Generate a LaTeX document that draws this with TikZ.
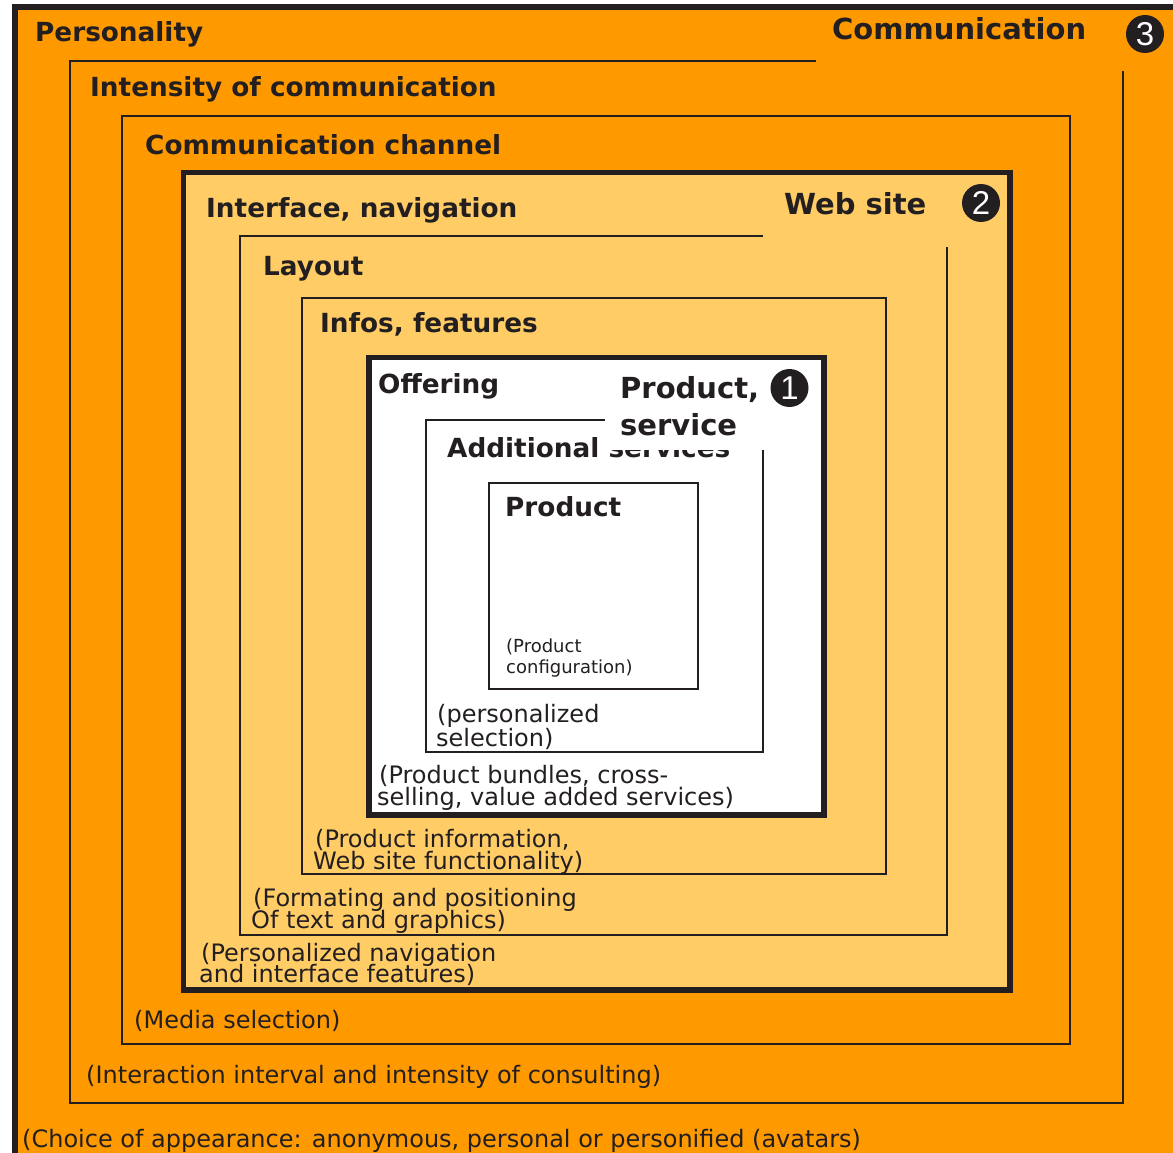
\documentclass[tikz,border=0pt]{standalone}
\usepackage{fontspec}
\setmainfont{DejaVu Sans}
\newfontfamily\digitfont{Liberation Sans}
\definecolor{deeporange}{HTML}{FF9900}
\definecolor{paleorange}{HTML}{FFCC66}
\definecolor{ink}{HTML}{231F20}

\tikzset{
  thinframe/.style={draw=ink, line width=2pt},
  thickframe/.style={draw=ink, line width=5.5pt},
  heading/.style={anchor=base west, inner sep=0pt, text=ink, font=\fontsize{26.3}{30}\selectfont\bfseries},
  bigheading/.style={heading, font=\fontsize{29}{33}\selectfont\bfseries},
  note/.style={anchor=base west, inner sep=0pt, text=ink, font=\fontsize{24}{26}\selectfont},
  smallnote/.style={note, font=\fontsize{18}{21}\selectfont},
  badge/.style={circle, fill=ink, text=white, minimum size=38pt, inner sep=0pt, font=\digitfont\fontsize{33}{33}\selectfont},
}

\begin{document}
\begin{tikzpicture}[x=1pt,y=-1pt]
\useasboundingbox (0,0) rectangle (1173,1153);

% level 3: communication
\fill[deeporange] (14.5,7) rectangle (1173,1153);
\draw[ink, line width=6pt] (14.5,1153) -- (14.5,7) -- (1173,7);
\draw[thinframe] (816,61) -- (69.5,61) -- (69.5,1103) -- (1123,1103) -- (1123,71);
\draw[thinframe] (122,116) rectangle (1070,1043.5);

% level 2: web site
\filldraw[thickframe, fill=paleorange] (183.5,172.5) rectangle (1010,990);
\draw[thinframe] (763,236) -- (240,236) -- (240,935) -- (947,935) -- (947,247);
\draw[thinframe] (302,297.5) rectangle (886,874);

% level 1: product, service
\filldraw[thickframe, fill=white] (369,357.5) rectangle (824,815);
\draw[thinframe] (607,420) -- (426,420) -- (426,752) -- (763,752) -- (763,450);
\draw[thinframe] (489,483) rectangle (698,689);

% headings
\node[heading] (personality) at (35,42) {Personality};
\node[bigheading] (communication) at (832,40) {Communication};
\node[badge] (badge3) at (1145,34) {3};
\node[heading] (intensity) at (90,97) {Intensity of communication};
\node[heading] (channel) at (145,154) {Communication channel};
\node[heading] (interface) at (206,217) {Interface, navigation};
\node[bigheading] (website) at (784,214) {Web site};
\node[badge] (badge2) at (981,203) {2};
\node[heading] (layout) at (263,275) {Layout};
\node[heading] (infos) at (320,332) {Infos, features};
\node[heading] (offering) at (378,393) {Offering};
\node[heading] (additional) at (447,457) {Additional services};
\fill[white] (605,372) rectangle (758,449.5);
\node[bigheading] (productA) at (620,398) {Product,};
\node[bigheading] (productB) at (620,435) {service};
\node[badge] (badge1) at (789.5,388) {1};
\node[heading] (product) at (505,516) {Product};

% explanatory notes
\node[smallnote] (config1) at (506,652) {(Product};
\node[smallnote] (config2) at (506,673) {configuration)};
\node[note] (sel1) at (437,722) {(personalized};
\node[note] (sel2) at (436,746) {selection)};
\node[note] (bund1) at (379,783) {(Product bundles, cross-};
\node[note] (bund2) at (377,805) {selling, value added services)};
\node[note] (info1) at (315,847) {(Product information,};
\node[note] (info2) at (313,869) {Web site functionality)};
\node[note] (fmt1) at (253,906) {(Formating and positioning};
\node[note] (fmt2) at (251,928) {Of text and graphics)};
\node[note] (nav1) at (201,961) {(Personalized navigation};
\node[note] (nav2) at (199,982) {and interface features)};
\node[note] (media) at (134,1028) {(Media selection)};
\node[note] (interaction) at (86,1083) {(Interaction interval and intensity of consulting)};
\node[note] (choice) at (22,1147) {(Choice of appearance: anonymous, personal or personified (avatars)};
\end{tikzpicture}
\end{document}
